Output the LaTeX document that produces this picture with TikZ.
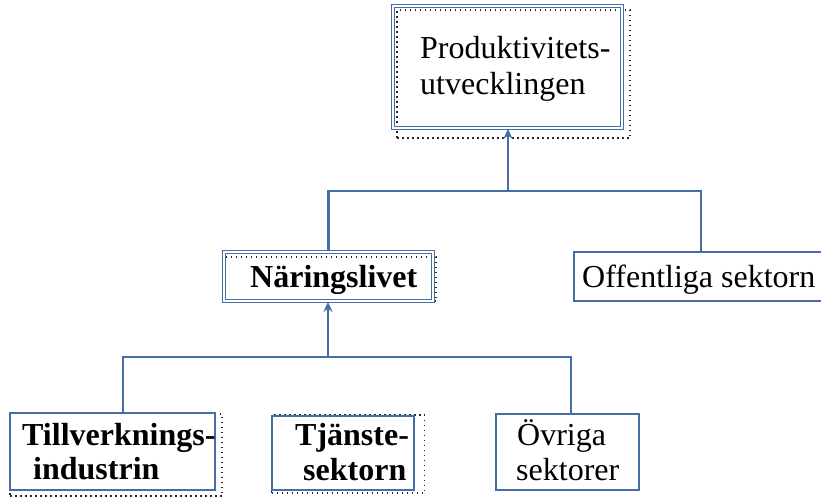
\documentclass[tikz,border=0pt]{standalone}
\usepackage{fontspec}
\setmainfont{Liberation Serif}
\usetikzlibrary{arrows.meta,calc}
\definecolor{frameblue}{RGB}{68,110,165}
\tikzset{
  box/.style={draw=frameblue, line width=2.2pt, rectangle, inner sep=0pt, fill=white},
  dblbox/.style={draw=frameblue, double=white, double distance=1.2pt, line width=1.7pt, rectangle, inner sep=0pt},
  artborder/.style={draw=black!85, line width=1.6pt, dash pattern=on 1.5pt off 3.5pt, rectangle, inner sep=0pt},
  lbl/.style={anchor=base west, inner sep=0pt, font=\fontsize{32}{37}\selectfont},
  blbl/.style={lbl, font=\fontsize{32}{37}\selectfont\bfseries},
  conn/.style={draw=frameblue, line width=2.2pt},
  arr/.style={conn, -{Stealth[length=10pt,width=9pt]}}
}
\begin{document}
\begin{tikzpicture}[x=1pt,y=-1pt]
\useasboundingbox (0,0) rectangle (821,501);
% decorative art borders
\node[artborder, minimum width=233pt, minimum height=128pt] (topart) at (513.5,74) {};
\node[artborder, minimum width=212pt, minimum height=44pt] (narart) at (330,279) {};
\node[artborder, minimum width=212pt, minimum height=82pt] (tillart) at (116,455) {};
\node[artborder, minimum width=153pt, minimum height=78pt] (tjaart) at (348,454) {};
% boxes
\node[dblbox, minimum width=229pt, minimum height=122pt] (top) at (507.5,67) {};
\node[dblbox, minimum width=209pt, minimum height=49pt] (nar) at (328.5,276.5) {};
\node[box, minimum width=266pt, minimum height=49pt] (off) at (707,276.5) {};
\node[box, minimum width=205pt, minimum height=77pt] (till) at (112.5,451.5) {};
\node[box, minimum width=142pt, minimum height=74pt] (tja) at (343,453) {};
\node[box, minimum width=143pt, minimum height=76pt] (ovr) at (567.5,452) {};
% texts
\node[lbl] (t1) at (420,58) {Produktivitets-};
\node[lbl] (t2) at (420,94) {utvecklingen};
\node[blbl] (t3) at (250,287) {Näringslivet};
\node[lbl] (t4) at (582,287) {Offentliga sektorn};
\node[blbl] (t5) at (22,445) {Tillverknings-};
\node[blbl] (t6) at (33,479) {industrin};
\node[blbl] (t7) at (295,445) {Tjänste-};
\node[blbl] (t8) at (303,480) {sektorn};
\node[lbl] (t9) at (517,445) {Övriga};
\node[lbl] (t10) at (516,480) {sektorer};
% connectors
\coordinate (j1) at (508,191);
\coordinate (offin) at ($(off.north west)+(128,0)$);
\draw[conn] (nar.north) |- (j1) -| (offin);
\draw[arr] (j1) -- (top.south -| j1);
\coordinate (j2) at (328,357);
\coordinate (tillin) at ($(till.north west)+(114,0)$);
\coordinate (ovrin) at ($(ovr.north west)+(76,0)$);
\draw[conn] (tillin) |- (j2) -| (ovrin);
\draw[arr] (j2) -- (nar.south -| j2);
\end{tikzpicture}
\end{document}
